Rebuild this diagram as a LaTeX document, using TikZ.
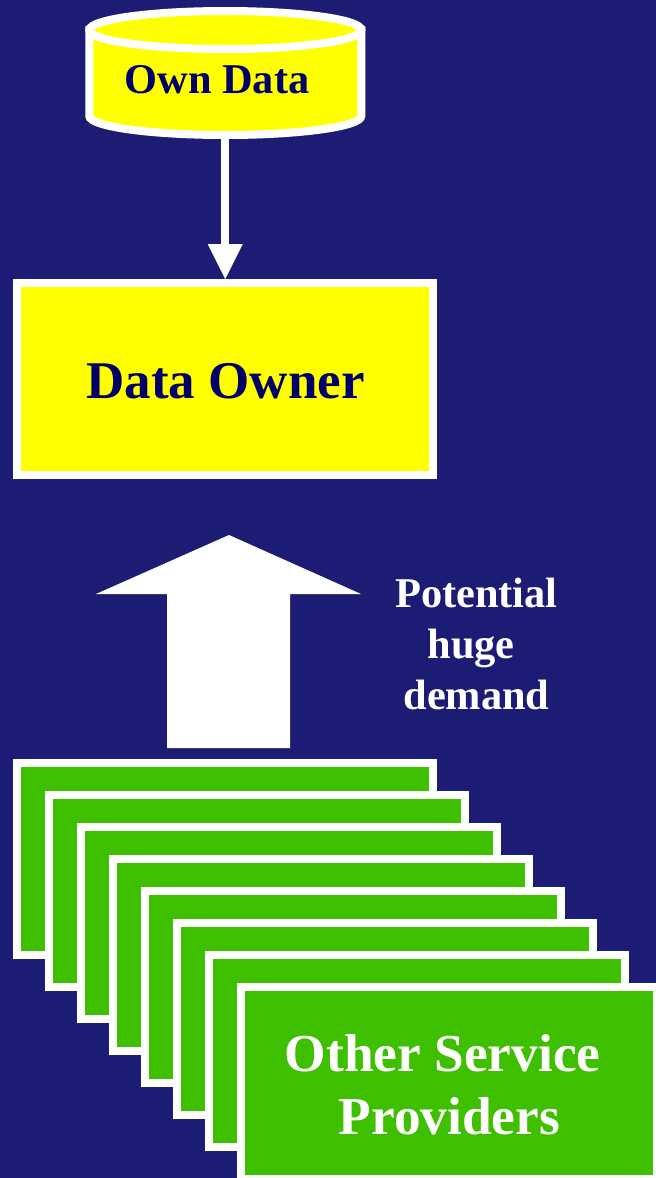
\documentclass[tikz,border=0pt]{standalone}
\usepackage{fontspec}
\setmainfont{Liberation Serif}
\usepackage{xcolor}
\definecolor{slide-bg}{RGB}{28,28,116}
\definecolor{ink-navy}{RGB}{0,0,102}
\definecolor{owner-yellow}{RGB}{255,255,0}
\definecolor{provider-green}{RGB}{62,191,0}
\usetikzlibrary{arrows.meta}

\begin{document}
\begin{tikzpicture}[
    x=0.75pt,
    y=-0.75pt,
    plain box/.style={
        draw=white,
        line width=6pt,
        fill=#1,
        minimum width=312pt,
        minimum height=143.8pt,
        inner sep=0pt
    },
    data store/.style={
        draw=white,
        line width=6pt,
        fill=owner-yellow
    },
    flow line/.style={
        draw=white,
        line width=6pt,
        -{Triangle[length=26.25pt,width=26.25pt,line width=0pt,fill=white]}
    },
    navy label/.style={font=\fontsize{#1}{#1}\selectfont\bfseries, text=ink-navy},
    white label/.style={font=\bfseries, text=white, align=center}
]

% Background
\useasboundingbox (0,0) rectangle (656,1178);
\clip (0,0) rectangle (656,1178);
\fill[slide-bg] (0,0) rectangle (656,1178);

% Own data store and its owner
\path[data store] (89.3,30) -- (89.3,116)
    arc[start angle=180, end angle=360, x radius=102pt, y radius=14.25pt]
    -- (361.3,30) -- cycle;
\path[data store] (225.3,30) ellipse[x radius=102pt, y radius=14.25pt];
\coordinate (own) at (225.3,139);
\node[navy label=31.8pt] (ownlabel) at (217,80) {Own Data};
\node[plain box=owner-yellow] (owner) at (225.3,379) {};
\node[navy label=39.75pt] (ownerlabel) at (225.5,381) {Data Owner};
\draw[flow line] (own) -- (owner.north);

% Demand arrow
\fill[white] (229,535) -- (361,594) -- (290,594) -- (290,748)
    -- (167,748) -- (167,594) -- (96,594) -- cycle;
\node[white label, font=\fontsize{31.8pt}{38.25pt}\selectfont\bfseries] (demandlabel) at (476.5,643.5) {Potential\\huge\kern7.9pt\\demand};

% Stack of providers
\foreach \i in {0,...,7} {
    \node[plain box=provider-green] (sp\i) at ({225.3+32*\i},{859+32*\i}) {};
}
\node[white label, font=\fontsize{40pt}{47.25pt}\selectfont\bfseries] (splabel) at (449.3,1084.5) {Other Service\kern9.9pt\\Providers};

\end{tikzpicture}
\end{document}
